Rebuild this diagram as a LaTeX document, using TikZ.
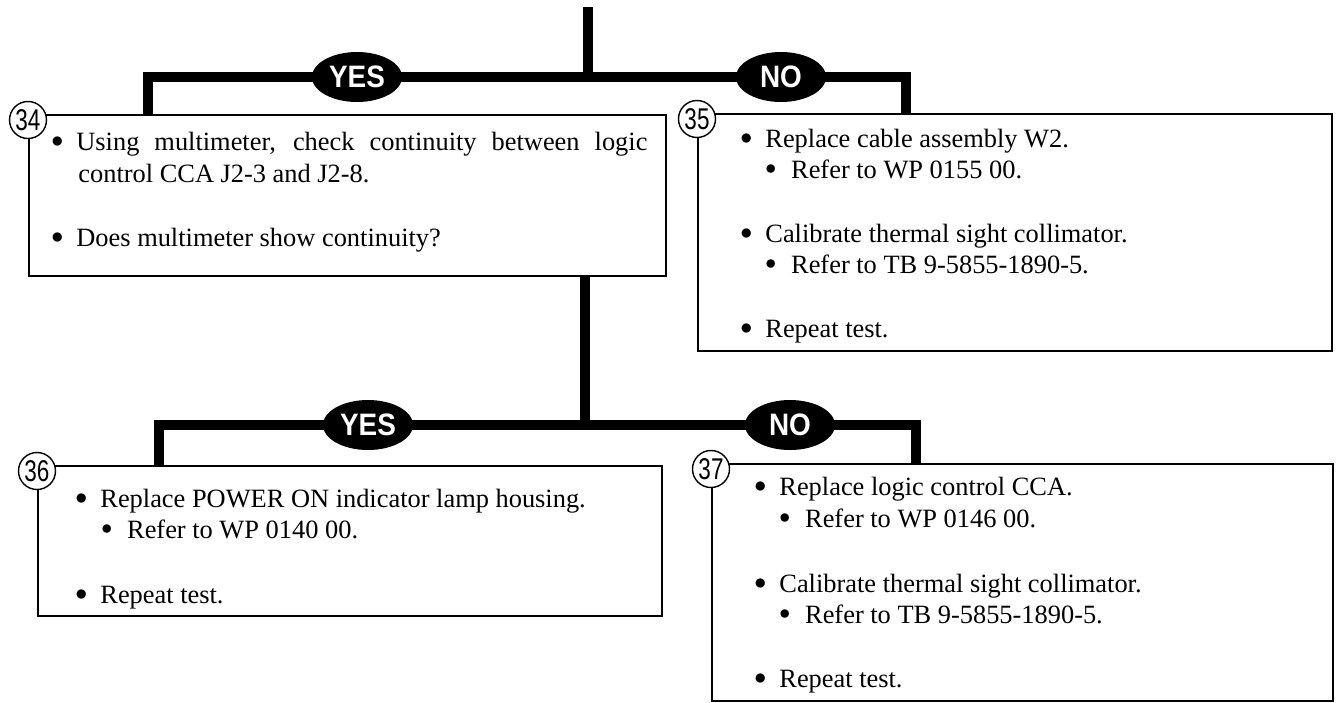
\documentclass[tikz,border=0pt]{standalone}
\usepackage{fontspec}
\setmainfont{Liberation Serif}
\newfontfamily\numfont[FakeStretch=0.75]{Liberation Sans}
\newfontfamily\tagfont[FakeStretch=0.9]{Liberation Sans}
\usetikzlibrary{shapes.geometric,positioning}
\tikzset{
  box/.style={rectangle, draw=black, line width=0.8pt, fill=white, anchor=north west, inner sep=0pt},
  stepno/.style={circle, draw=black, line width=0.7pt, fill=white, minimum size=18.5pt, inner sep=0pt,
                 font=\numfont\fontsize{15}{15}\selectfont},
  answer/.style={ellipse, fill=black, text=white, minimum width=45pt, minimum height=25pt, inner sep=0pt,
                 font=\tagfont\bfseries\fontsize{15.5}{15.5}\selectfont},
  bar/.style={draw=black, line width=5pt, line join=miter},
  item/.style={anchor=base west, inner sep=0pt, font=\fontsize{13.2}{15.5}\selectfont},
}
\newcommand{\bul}{\raisebox{1.2pt}{$\bullet$}\hspace{6.5pt}}
\newcommand{\subbul}{{\fontsize{10.5}{10}\selectfont\raisebox{2pt}{$\bullet$}}\hspace{7.4pt}}

\begin{document}
\begin{tikzpicture}[x=0.5pt, y=-0.5pt]
\useasboundingbox (0,0) rectangle (1338,702);

% first question and its two answers
\coordinate (top) at (588,7);
\coordinate (j1) at (588,77);
\node[box, minimum width=318.5pt, minimum height=80.5pt] (b34) at (28,114) {};
\node[box, minimum width=317pt, minimum height=118.5pt] (b35) at (697,113) {};
\draw[bar] (top) -- (j1);
\draw[bar] ([xshift=60pt]b34.north west) |- (j1) -| ([xshift=104.5pt]b35.north west);
\node[answer] (yes1) at (357,77) {YES};
\node[answer] (no1) at (781,77) {NO};

% second level
\coordinate (j2) at (585,425);
\node[box, minimum width=312pt, minimum height=75pt] (b36) at (37,465) {};
\node[box, minimum width=310.5pt, minimum height=118.5pt] (b37) at (711,463) {};
\draw[bar] (b34.south -| j2) -- (j2);
\draw[bar] ([xshift=61pt]b36.north west) |- (j2) -| ([xshift=102.5pt]b37.north west);
\node[answer] (yes2) at (368,425) {YES};
\node[answer] (no2) at (790,425) {NO};

% step numbers
\node[stepno] (n34) at ([yshift=-3pt]b34.north west) {34};
\node[stepno] (n35) at ([yshift=-3pt]b35.north west) {35};
\node[stepno] (n36) at ([yshift=-3pt]b36.north west) {36};
\node[stepno] (n37) at ([yshift=-3pt]b37.north west) {37};

% box texts
\node[item] (t34a) at (51,150) {\bul\makebox[285.5pt][s]{Using multimeter, check continuity between logic}};
\node[item] (t34b) at (78,182) {control CCA J2-3 and J2-8.};
\node[item] (t34c) at (51,246) {\bul Does multimeter show continuity?};

\node[item] (t35a) at (740,147) {\bul Replace cable assembly W2.};
\node[item] (t35b) at (765,178) {\subbul Refer to WP 0155 00.};
\node[item] (t35c) at (740,242) {\bul Calibrate thermal sight collimator.};
\node[item] (t35d) at (765,273) {\subbul Refer to TB 9-5855-1890-5.};
\node[item] (t35e) at (740,337) {\bul Repeat test.};

\node[item] (t36a) at (75,507) {\bul Replace POWER ON indicator lamp housing.};
\node[item] (t36b) at (101,538) {\subbul Refer to WP 0140 00.};
\node[item] (t36c) at (75,603) {\bul Repeat test.};

\node[item] (t37a) at (754,495) {\bul Replace logic control CCA.};
\node[item] (t37b) at (779,527) {\subbul Refer to WP 0146 00.};
\node[item] (t37c) at (754,592) {\bul Calibrate thermal sight collimator.};
\node[item] (t37d) at (779,623) {\subbul Refer to TB 9-5855-1890-5.};
\node[item] (t37e) at (754,687) {\bul Repeat test.};
\end{tikzpicture}
\end{document}
